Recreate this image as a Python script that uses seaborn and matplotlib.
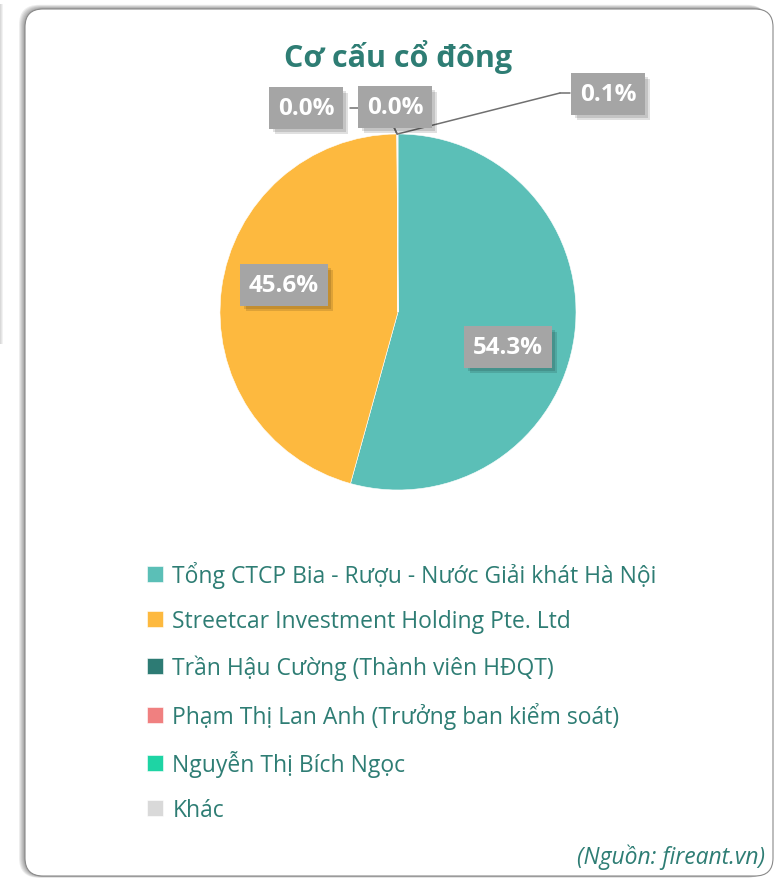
import numpy as np
import matplotlib
matplotlib.use("Agg")
import matplotlib.pyplot as plt
import matplotlib.patheffects as pe
import seaborn as sns
from matplotlib.patches import FancyBboxPatch, Rectangle
from matplotlib.transforms import IdentityTransform

# data
names = ['Tổng CTCP Bia - Rượu - Nước Giải khát Hà Nội',
         'Streetcar Investment Holding Pte. Ltd',
         'Trần Hậu Cường (Thành viên HĐQT)',
         'Phạm Thị Lan Anh (Trưởng ban kiểm soát)',
         'Nguyễn Thị Bích Ngọc',
         'Khác']
shares = [54.3, 45.6, 0.02, 0.01, 0.0, 0.07]
colors = ['#5BBFB7', '#FDB93F', '#2D7B74', '#F08080', '#1ED4A4', '#D9D9D9']
title = 'Cơ cấu cổ đông'
source = '(Nguồn: fireant.vn)'

sns.set_theme(style='white')
plt.rcParams['font.family'] = ['Open Sans', 'DejaVu Sans']

W, H = 774, 879
fig = plt.figure(figsize=(W / 100, H / 100), dpi=100)
fig.patch.set_facecolor('white')

def fx(px):
    return px / W

def fy(py):
    return 1 - py / H

# faint neighbour card on the left edge
for k in range(4):
    fig.patches.append(Rectangle((-6 + k, H - 345), 6, 340, transform=IdentityTransform(),
                                 fc='#000000', alpha=0.05, lw=0, zorder=-2))

# card with soft shadow
x0, y0, x1, y1 = 25, 10, 773, 877
for k in range(6, 0, -1):
    fig.patches.append(FancyBboxPatch((x0 - k, H - y1 - k * 0.3), x1 - x0, y1 - y0 + k,
                                      boxstyle='round,pad=0,rounding_size=20',
                                      transform=IdentityTransform(), fc='#000000',
                                      alpha=0.07, lw=0, zorder=-2))
fig.patches.append(FancyBboxPatch((x0, H - y1), x1 - x0, y1 - y0,
                                  boxstyle='round,pad=0,rounding_size=18',
                                  transform=IdentityTransform(), fc='white',
                                  ec='#8a8a8a', lw=0.8, zorder=-1))

teal = '#2E7D74'
fig.text(fx(398), fy(57), title, ha='center', va='center', fontsize=22,
         fontweight='bold', color=teal)

# pie
cx, cy, r = 398, 313, 178
ax = fig.add_axes([fx(cx - r), fy(cy + r), 2 * r / W, 2 * r / H])
wedges, _ = ax.pie(shares, colors=colors, startangle=90, counterclock=False,
                   wedgeprops=dict(lw=0.4, ec='white'))
ax.set_xlim(-1, 1)
ax.set_ylim(-1, 1)
ax.set_aspect('auto')
ax.axis('off')

box = dict(boxstyle='square,pad=0.35', fc='#A5A5A5', ec='none')
line_kw = dict(arrowstyle='-', color='#707070', lw=1.1, shrinkA=0, shrinkB=0)

def put_label(txt, xy, pos, line=None):
    # pos in figure pixels (from top-left), xy anchor on the wedge (data coords)
    px, py = pos
    if line is not None:
        pts = [(lx, H - ly) for lx, ly in line]
        ax.annotate('', xy=xy, xytext=pts[0], textcoords='figure pixels',
                    arrowprops=line_kw, annotation_clip=False)
        for a, b in zip(pts[:-1], pts[1:]):
            ax.annotate('', xy=a, xycoords='figure pixels', xytext=b,
                        textcoords='figure pixels', arrowprops=line_kw,
                        annotation_clip=False)
    t = fig.text(fx(px), fy(py), txt, ha='center', va='center', fontsize=17.5,
                 fontweight='bold', color='white', bbox=box, zorder=5)
    t.get_bbox_patch().set_path_effects([
        pe.SimplePatchShadow(offset=(4, -4), shadow_rgbFace='black', alpha=0.12),
        pe.SimplePatchShadow(offset=(2.5, -2.5), shadow_rgbFace='black', alpha=0.12),
        pe.Normal()])

def edge(w, rr=1.0):
    a = np.deg2rad((w.theta1 + w.theta2) / 2)
    return (rr * np.cos(a), rr * np.sin(a))

labels = ['%.1f%%' % v for v in shares]
put_label(labels[0], edge(wedges[0]), (508, 348))
put_label(labels[1], edge(wedges[1]), (284, 286))
put_label(labels[2], edge(wedges[2]), (306, 109), line=[(385, 109), (350, 109)])
put_label(labels[3], edge(wedges[3]), (395, 108), line=[(393, 126)])
put_label(labels[5], edge(wedges[5]), (608, 95), line=[(560, 94), (570, 94)])

leg = fig.legend(wedges, names, loc='upper left', bbox_to_anchor=(fx(138), fy(553)),
                 frameon=False, fontsize=16.5, labelcolor=teal, handlelength=0.7,
                 handleheight=0.7, handletextpad=0.4, labelspacing=0.93,
                 borderaxespad=0)

fig.text(fx(765), fy(857), source, ha='right', va='center', fontsize=16.5,
         style='italic', color=teal)

fig.savefig('out.png', dpi=100)
